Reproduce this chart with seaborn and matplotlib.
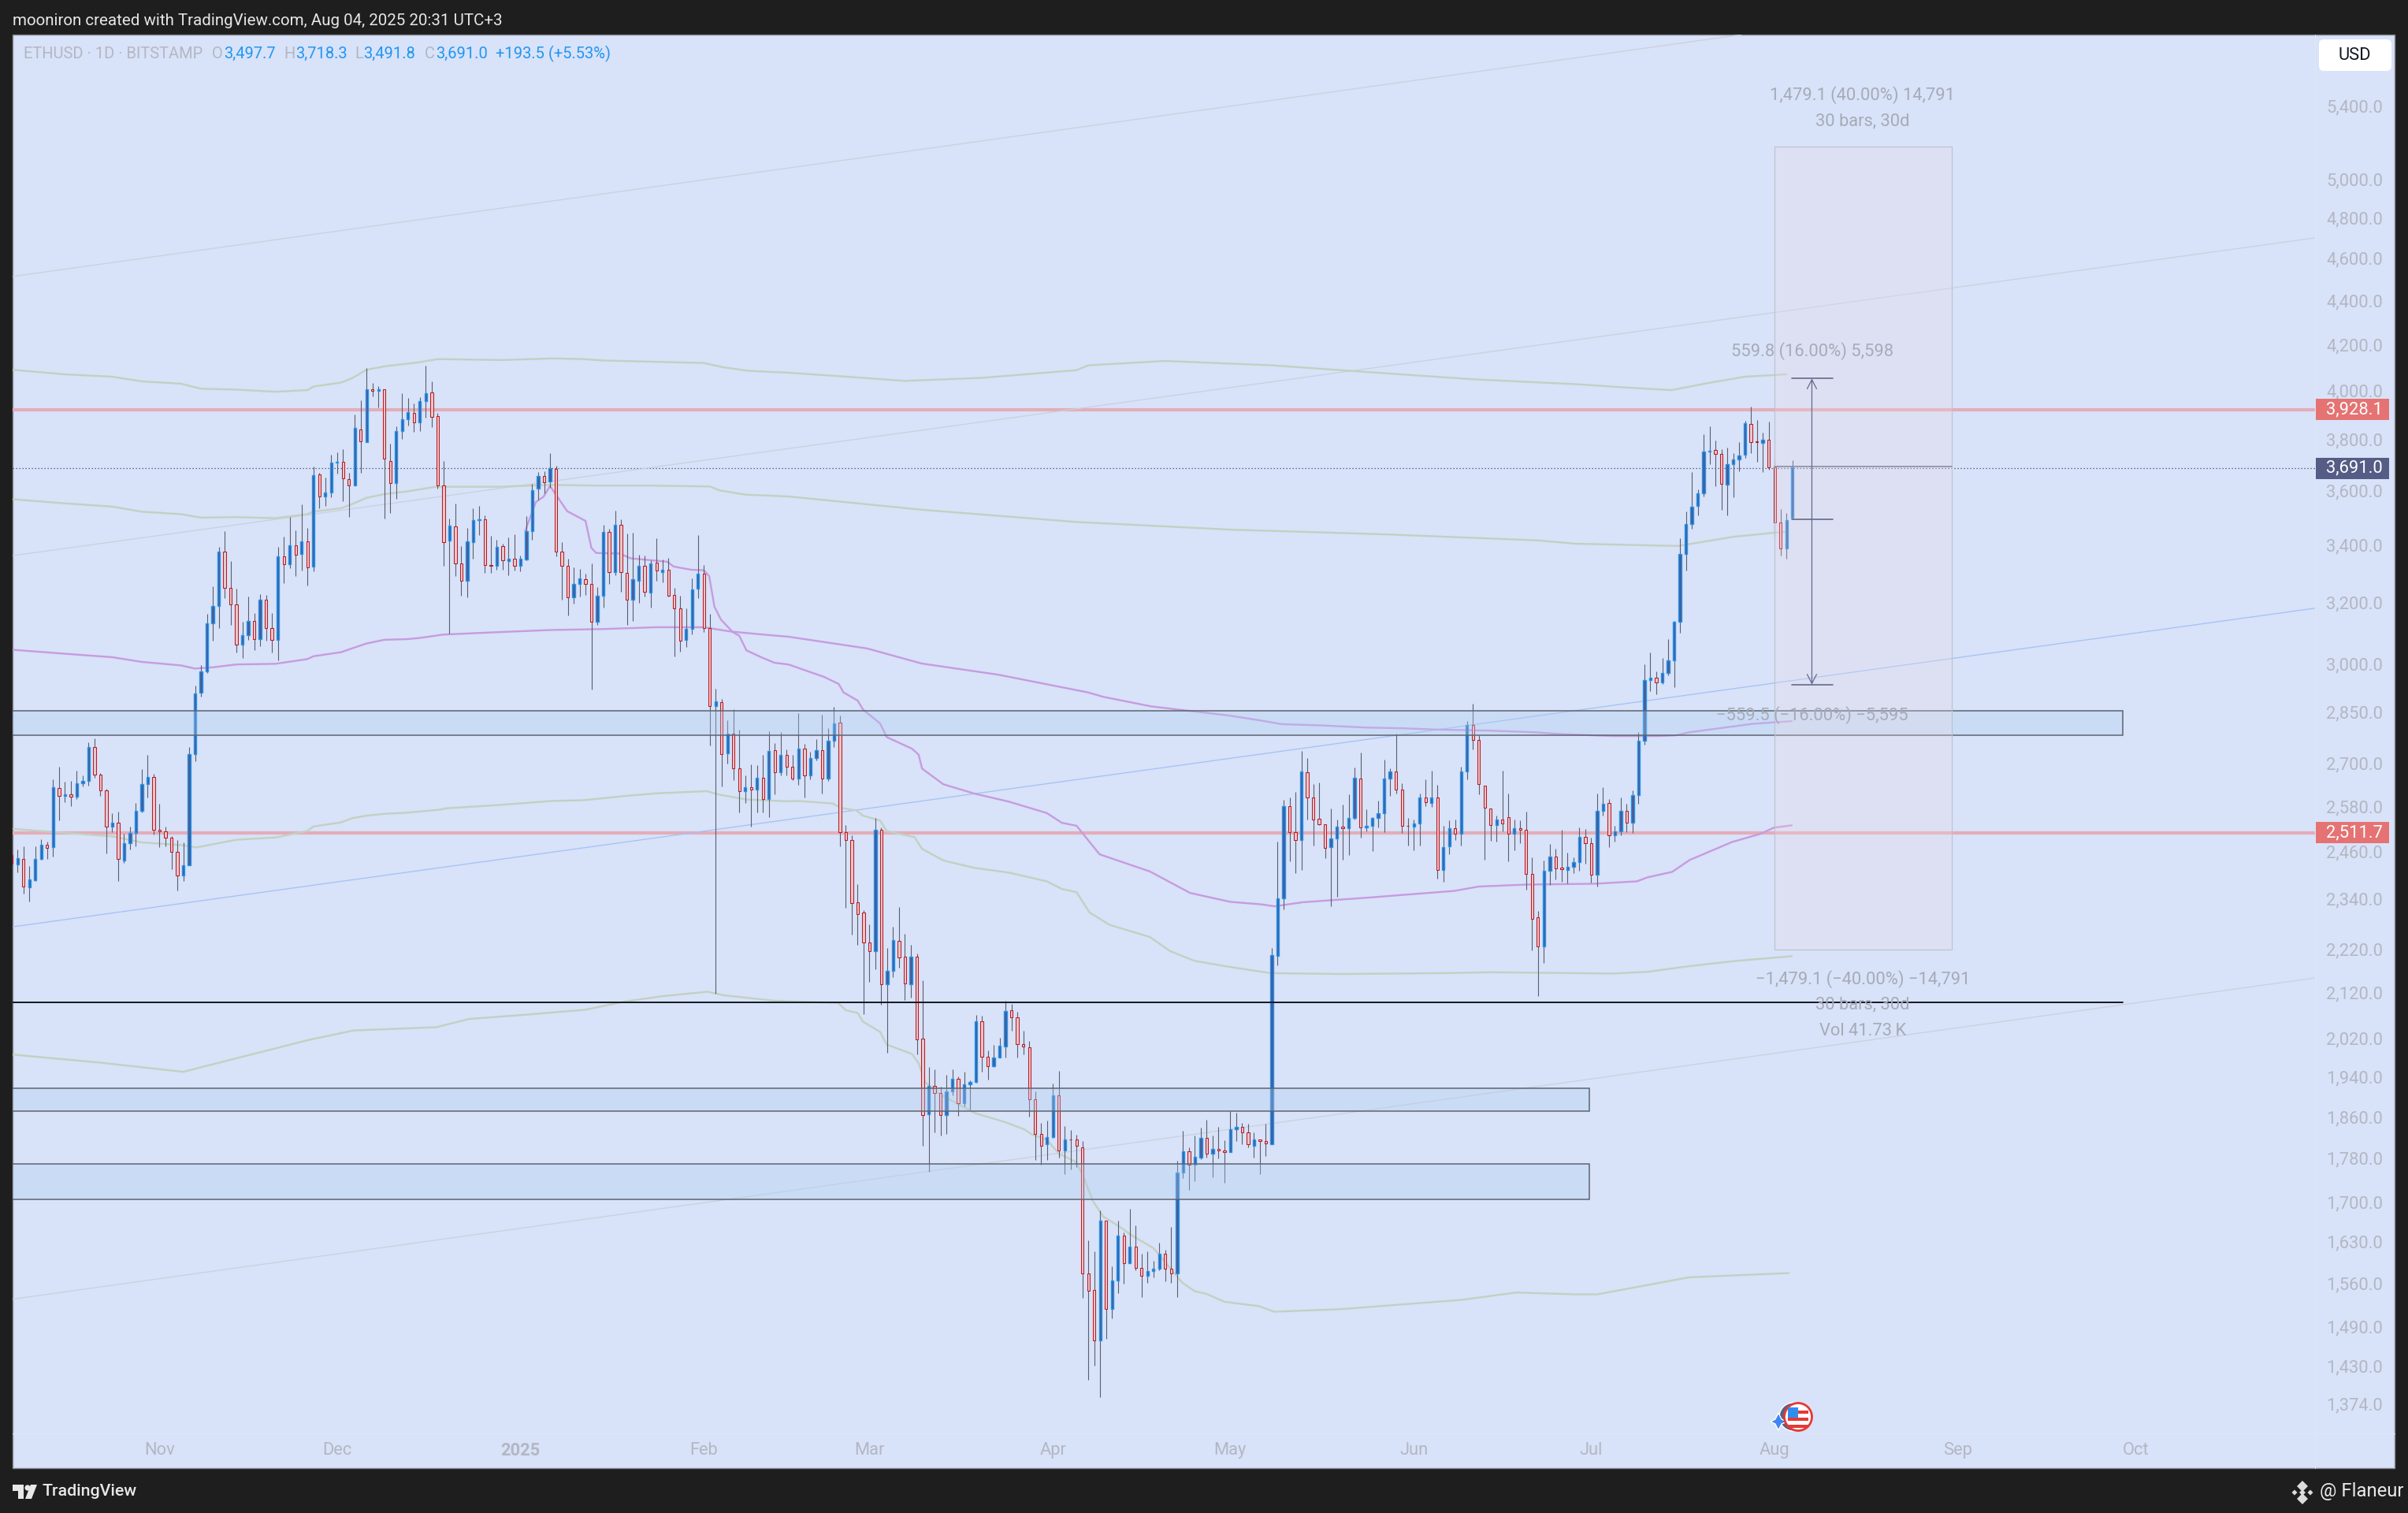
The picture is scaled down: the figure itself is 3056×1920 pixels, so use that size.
import numpy as np
import matplotlib
matplotlib.use("Agg")
import matplotlib.pyplot as plt
from matplotlib.patches import Rectangle, Circle, Polygon, FancyBboxPatch
import seaborn as sns

# ---------- candle data (daily ETHUSD) ----------
opens = [2452,2427,2441,2369,2387,2441,2477,2471,2631,2609,
 2614,2607,2643,2650,2748,2668,2624,2526,2536,2437,
 2482,2509,2568,2641,2661,2518,2514,2497,2459,2398,
 2425,2726,2908,2976,3131,3188,3377,3250,3194,3060,
 3092,3137,3077,3210,3113,3075,3359,3332,3399,3368,
 3413,3323,3662,3578,3593,3708,3711,3645,3619,3841,
 3788,4005,3999,4008,3714,3630,3835,3883,3907,3868,
 3958,3992,3894,3621,3415,3466,3335,3274,3410,3489,
 3492,3328,3326,3396,3343,3352,3326,3348,3449,3608,
 3656,3635,3684,3377,3325,3216,3262,3278,3264,3135,
 3222,3448,3305,3472,3300,3208,3274,3326,3234,3338,
 3305,3313,3224,3179,3075,3111,3246,3298,3114,2868,
 2880,2728,2785,2686,2623,2632,2627,2660,2601,2738,
 2675,2724,2691,2658,2742,2666,2714,2738,2658,2765,
 2819,2510,2490,2332,2306,2235,2215,2518,2139,2169,
 2239,2202,2138,2202,2020,1864,1921,1907,1863,1910,
 1935,1886,1924,1929,2057,1982,1962,1979,2003,2081,
 2066,2008,2001,1894,1826,1806,1820,1903,1794,1816,
 1816,1801,1577,1549,1469,1666,1518,1564,1641,1594,
 1621,1585,1573,1580,1584,1609,1584,1577,1754,1793,
 1768,1781,1818,1788,1798,1795,1791,1835,1840,1830,
 1804,1816,1813,1806,2204,2341,2580,2510,2491,2674,
 2605,2546,2533,2472,2495,2526,2521,2549,2658,2523,
 2528,2549,2561,2656,2677,2627,2528,2526,2535,2604,
 2590,2604,2413,2474,2521,2507,2676,2811,2767,2638,
 2575,2530,2545,2552,2507,2521,2518,2402,2295,2225,
 2410,2447,2418,2412,2420,2433,2498,2481,2401,2568,
 2589,2503,2514,2568,2537,2612,2765,2948,2956,2941,
 2970,3009,3135,3367,3475,3544,3589,3751,3759,3742,
 3622,3702,3721,3738,3864,3792,3785,3800,3691,3481,
 3386,3497.7]
highs = [2470,2465,2474,2422,2474,2493,2487,2655,2690,2649,
 2651,2680,2667,2760,2771,2672,2629,2562,2565,2506,
 2526,2590,2684,2725,2670,2588,2526,2500,2491,2483,
 2748,2930,2996,3161,3254,3393,3451,3342,3246,3134,
 3220,3163,3228,3225,3163,3392,3430,3503,3453,3549,
 3462,3694,3667,3649,3740,3750,3760,3669,3902,3960,
 4097,4033,4020,4008,3783,3854,3990,3971,3947,3973,
 4106,4041,3909,3715,3495,3551,3395,3460,3534,3542,
 3507,3431,3418,3403,3427,3439,3363,3504,3627,3673,
 3676,3744,3696,3410,3352,3320,3315,3297,3333,3251,
 3472,3458,3524,3493,3441,3444,3366,3362,3345,3424,
 3347,3353,3250,3223,3181,3282,3434,3328,3160,2921,
 2890,2826,2858,2798,2667,2698,2694,2725,2793,2758,
 2791,2739,2725,2848,2755,2734,2769,2843,2802,2865,
 2839,2530,2502,2377,2312,2279,2549,2523,2222,2272,
 2320,2255,2230,2209,2147,1960,1955,1919,1943,1955,
 1941,1951,1933,2070,2069,1995,2006,2021,2102,2094,
 2078,2037,2015,1910,1847,1853,1926,1952,1841,1834,
 1825,1813,1633,1614,1685,1666,1588,1666,1646,1688,
 1658,1610,1613,1598,1629,1616,1655,1775,1833,1801,
 1824,1839,1854,1824,1840,1814,1871,1867,1847,1846,
 1830,1816,1846,2223,2486,2597,2604,2620,2736,2715,
 2642,2646,2533,2574,2545,2586,2613,2688,2731,2573,
 2552,2596,2710,2686,2786,2644,2549,2545,2615,2654,
 2679,2640,2528,2543,2545,2690,2824,2875,2781,2638,
 2575,2556,2679,2615,2545,2543,2566,2445,2311,2436,
 2479,2467,2517,2458,2445,2523,2519,2496,2615,2633,
 2600,2527,2605,2587,2625,2791,2997,3035,2976,3017,
 3078,3138,3423,3522,3672,3606,3820,3852,3796,3762,
 3767,3744,3790,3876,3934,3879,3826,3872,3717,3532,
 3517,3718.3]
lows = [2420,2407,2354,2333,2385,2439,2441,2447,2543,2592,
 2581,2600,2634,2637,2659,2608,2455,2510,2385,2431,
 2465,2474,2563,2604,2504,2471,2474,2415,2361,2385,
 2425,2706,2898,2971,3073,3113,3215,3125,3034,3017,
 3076,3043,3056,3073,3036,3011,3265,3317,3290,3308,
 3257,3306,3535,3542,3576,3665,3559,3503,3619,3669,
 3788,3977,3929,3496,3517,3568,3803,3857,3829,3835,
 3888,3850,3608,3325,3096,3290,3221,3216,3350,3436,
 3302,3301,3312,3311,3292,3310,3306,3345,3418,3566,
 3591,3610,3358,3209,3156,3196,3220,3225,2919,3124,
 3183,3263,3294,3235,3124,3137,3197,3219,3182,3273,
 3268,3220,3022,3038,3054,3093,3213,3101,2751,2118,
 2634,2700,2653,2564,2590,2525,2564,2564,2550,2614,
 2666,2666,2653,2640,2604,2655,2708,2616,2650,2746,
 2473,2318,2253,2229,2073,2144,2172,2093,1990,2154,
 2177,2103,2109,1986,1803,1755,1829,1823,1826,1903,
 1862,1880,1874,1927,1951,1934,1960,1979,1979,2037,
 1980,1987,1860,1777,1768,1777,1819,1782,1750,1759,
 1763,1536,1409,1430,1383,1471,1504,1544,1560,1594,
 1582,1537,1561,1570,1582,1563,1561,1537,1743,1722,
 1738,1778,1781,1745,1780,1735,1791,1813,1807,1801,
 1782,1750,1785,1806,2182,2315,2434,2405,2413,2545,
 2476,2529,2443,2323,2346,2439,2451,2545,2497,2514,
 2462,2524,2510,2609,2616,2509,2476,2463,2475,2580,
 2578,2391,2383,2454,2490,2476,2654,2741,2614,2438,
 2488,2487,2513,2434,2464,2482,2363,2216,2113,2188,
 2375,2388,2383,2379,2405,2411,2429,2381,2371,2556,
 2472,2486,2502,2511,2508,2587,2753,2913,2904,2935,
 2962,2925,3098,3308,3459,3506,3579,3701,3616,3527,
 3506,3574,3676,3728,3747,3712,3673,3682,3425,3363,
 3351,3491.8]
closes = [2428,2443,2372,2388,2441,2477,2469,2633,2609,2614,
 2607,2643,2650,2748,2668,2624,2526,2536,2441,2482,
 2509,2568,2641,2661,2518,2514,2497,2459,2399,2425,
 2726,2906,2976,3131,3188,3377,3248,3194,3061,3092,
 3137,3077,3210,3113,3075,3359,3330,3399,3365,3413,
 3321,3659,3578,3593,3708,3711,3647,3619,3846,3791,
 4005,3999,4008,3723,3630,3835,3883,3911,3870,3958,
 3989,3893,3620,3411,3469,3335,3274,3413,3489,3493,
 3329,3325,3393,3345,3352,3326,3352,3449,3602,3656,
 3632,3687,3377,3325,3216,3264,3281,3262,3135,3222,
 3448,3303,3472,3303,3208,3278,3325,3237,3335,3308,
 3313,3221,3179,3073,3111,3245,3298,3115,2868,2882,
 2727,2785,2686,2623,2632,2627,2660,2601,2736,2675,
 2724,2691,2658,2742,2666,2714,2738,2658,2765,2816,
 2512,2490,2330,2303,2235,2215,2518,2139,2169,2241,
 2201,2140,2202,2018,1863,1921,1907,1863,1910,1935,
 1886,1924,1929,2056,1981,1962,1980,2005,2079,2066,
 2008,2003,1894,1826,1804,1820,1903,1794,1815,1815,
 1803,1576,1548,1469,1666,1519,1564,1641,1594,1621,
 1585,1573,1580,1584,1609,1584,1577,1754,1793,1768,
 1783,1818,1789,1797,1795,1791,1836,1840,1830,1806,
 1816,1813,1808,2205,2341,2580,2510,2491,2676,2605,
 2544,2531,2470,2495,2526,2521,2549,2660,2523,2528,
 2549,2561,2658,2677,2627,2528,2527,2535,2604,2591,
 2604,2413,2472,2521,2507,2676,2811,2767,2641,2576,
 2530,2545,2534,2507,2521,2517,2403,2292,2225,2410,
 2447,2416,2414,2420,2432,2498,2481,2401,2568,2587,
 2503,2514,2568,2537,2612,2765,2948,2956,2941,2970,
 3009,3135,3367,3475,3541,3589,3751,3755,3742,3625,
 3702,3721,3736,3867,3790,3788,3800,3691,3481,3386,
 3491,3691.0]

# ---------- band lines (bar number, price) ----------
g1_bar = [0,9,17,22,28.6,32,38,44.6,50,51,55.7,57.5,60,63.4,68.6,72,83,91.5,96.6,100,117,120.4,124.6,131.3,140,151,164,180,182,195,213,232,247,264.4,273.4,280.6,286.8,293,300]
g1_val = [4090,4070,4060,4040,4030,4009,4005,3996,4003,4018,4035,4053,4090,4106,4121,4136,4132,4139,4136,4130,4119,4100,4085,4077,4062,4042,4055,4088,4109,4128,4109,4075,4049,4028,4013,4003,4033,4060,4070]
g2_bar = [0,9,17,22,28.6,32,38,44.6,50,51,55.7,57.5,60,63,66.8,71.7,82.4,90.9,100,109,118,119.7,124,131.3,154,180,206,232,258,264.4,281.7,291,300]
g2_val = [3568,3552,3540,3521,3512,3499,3501,3497,3512,3521,3534,3549,3573,3587,3597,3615,3615,3622,3619,3619,3616,3601,3585,3578,3528,3483,3455,3438,3416,3404,3396,3429,3448]
p1_bar = [0,9,17,22,28.6,31,34,38,44.6,50,51,55.7,57.5,60,63,66.8,69,73,82.4,91.3,100,109,117,121.5,127,131.3,144.6,153.8,166.7,181.9,184.6,192.7,205.7,211.1,214.7,221.8,228.9,234.9,240.8,249.7,257.5,261.6,270.6,278.3,281.3,283.6,294.3,300.9]
p1_val = [3044,3031,3020,3005,2994,2984,2988,2997,2999,3014,3023,3036,3048,3064,3076,3078,3082,3093,3101,3108,3111,3117,3117,3103,3093,3086,3048,3000,2965,2910,2896,2867,2840,2825,2814,2810,2804,2802,2798,2795,2790,2785,2779,2779,2781,2790,2815,2823]
p2_bar = [86.8,88.6,89.9,91,93.9,97,98,98.8,102.8,104.6,110.8,111.9,114.8,117,117.9,118.8,119.9,121.9,123,124.2,126.8,129,131.3,137.3,139.8,140.6,143,143.9,146.8,147.9,152.2,153.3,153.9,157.5,162.8,168.6,175,177.5,180,183.9,192.4,199.2,206,211.1,213.5,218.2,228.9,243.8,248,256.3,267.6,274.7,276.5,280.7,283.6,290.8,295.5,297.9,300.9]
p2_val = [3450,3557,3577,3618,3523,3487,3389,3371,3369,3352,3340,3323,3312,3310,3290,3185,3142,3101,3089,3042,3019,3002,2997,2958,2936,2910,2885,2858,2816,2776,2742,2725,2685,2641,2615,2593,2562,2536,2528,2453,2409,2355,2333,2327,2322,2332,2343,2360,2371,2376,2378,2384,2394,2408,2438,2485,2506,2523,2529]
g3_bar = [0,9,17,22,28.6,31.3,38,44.6,50,51,55.7,57.5,60,63,66.8,72.2,73.5,82.4,91.3,96.6,104.6,109,117.5,119.7,124.2,131.3,133,138.8,140.2,142.8,143.9,146.8,147.9,152.6,153.9,157.5,162.8,168.6,175,177.5,180,182.2,185.6,192.4,195.8,200,206,212.8,224.7,241.7,250.2,264.4,270.6,276.5,283.6,291.4,300.9]
g3_val = [2520,2509,2500,2484,2477,2471,2491,2497,2514,2526,2537,2548,2555,2560,2563,2571,2575,2584,2595,2597,2610,2616,2622,2612,2599,2594,2595,2588,2576,2569,2555,2542,2514,2498,2467,2437,2418,2406,2384,2365,2357,2307,2277,2248,2215,2192,2178,2164,2162,2164,2166,2164,2163,2167,2180,2192,2203]
g4_bar = [0,15,29,37,50.3,57.8,71.8,77.4,86.8,97,103.6,110,117.6,120.4,128.8,139.7,141,143,143.9,146.8,147.9,152.2,153.3,154.4,157,162.8,168,171.2,172.5,175,177,179.9,181,182.8,184.5,187.6,189,193,197.9,200,201.9,205,210.8,213.4,224.5,245,254.4,264.4,268,283.6,300.4]
g4_val = [1986,1969,1950,1975,2017,2037,2044,2062,2071,2082,2100,2112,2122,2114,2102,2097,2081,2075,2056,2034,2007,1987,1968,1929,1904,1867,1849,1835,1825,1815,1789,1773,1750,1701,1674,1654,1643,1619,1561,1547,1543,1530,1523,1514,1518,1533,1545,1542,1542,1570,1577]

# ---------- channel lines, levels, boxes ----------
chan_top_bar, chan_top_val = [0, 292.4], [4512, 5824]
chan_upper_bar, chan_upper_val = [0, 389.3], [3361, 4700]
chan_mid_bar, chan_mid_val = [0, 389.3], [2272, 3180]
chan_low_bar, chan_low_val = [0, 389.3], [1534, 2153]
res_labels = [3928.1, 2511.7]
res_levels = [3922, 2509]          # where the level lines sit on the price scale
last_label = 3691.0
last_level = 3686
black_level = 2098
box_end_long, box_end_short = 356.8, 266.7
box_a = (2782, 2855)
box_b = (1871, 1917)
box_c = (1704, 1769)

y_ticks = [5400,5000,4800,4600,4400,4200,4000,3800,3600,3400,3200,3000,2850,2700,2580,2460,2340,2220,2120,2020,1940,1860,1780,1700,1630,1560,1490,1430,1374]
x_tick_bars = [25,55,86,117,145,176,206,237,267,298,329,359]
x_tick_text = ["Nov","Dec","2025","Feb","Mar","Apr","May","Jun","Jul","Aug","Sep","Oct"]

# projection tools
proj_bars = (298, 328)
proj_entry, proj_top, proj_bottom = 3692, 5176, 2218
arrow_bar, arrow_cap = 304.3, (300.9, 307.9)
arrow_start, arrow_top, arrow_bottom = 3493, 4052, 2934

# ---------- style ----------
W, H = 3056, 1920
sns.set_theme(style="white", rc={"axes.grid": False})
plt.rcParams["font.family"] = ["Roboto", "DejaVu Sans"]
DARK = "#1e1e1e"; PANE = "#d8e2f8"
GREEN = "#c3d0c2"; PURPLE = "#c79be0"; GREYL = "#c9d1de"; BLUEL = "#a3c1f5"
PINK = "#e4adb8"; NAVY = "#555c85"; AXT = "#b3b7c3"; TXT = "#a6abb8"

fig = plt.figure(figsize=(W/200, H/200), dpi=200, facecolor=DARK)

bg = fig.add_axes([0, 0, 1, 1], zorder=0)
bg.set_xlim(0, W); bg.set_ylim(H, 0); bg.axis("off")
bg.add_patch(Rectangle((16, 44), 3039-16, 1863-44, fc=PANE, ec="#8a8d96", lw=0.5))
bg.plot([2938, 2938], [44, 1863], color="#dfe6f8", lw=0.4)
bg.plot([16, 3039], [1819, 1819], color="#dfe6f8", lw=0.4)

ax = fig.add_axes([16/W, 1-1819/H, (2938-16)/W, (1819-44)/H], zorder=1)
ax.patch.set_alpha(0)
ax.set_yscale("log")
ax.set_ylim(1331.6, 5824)
ax.set_xlim(0.16, 389.35)
for s in ax.spines.values():
    s.set_visible(False)

# levels under the candles
for lv in res_levels:
    ax.axhline(lv, color=PINK, lw=1.5, zorder=1.2)
ax.axhline(last_level, color="#3d4470", lw=0.45, ls=(0, (1, 2.2)), zorder=1.3)

# channel + bands through seaborn
def line(xs, ys, color, lw, z=2):
    sns.lineplot(x=xs, y=ys, ax=ax, color=color, lw=lw, sort=False, estimator=None, zorder=z, legend=False)

line(chan_top_bar, chan_top_val, GREYL, 0.45)
line(chan_upper_bar, chan_upper_val, GREYL, 0.45)
line(chan_low_bar, chan_low_val, GREYL, 0.45)
line(chan_mid_bar, chan_mid_val, BLUEL, 0.45)
for xs, ys in [(g1_bar, g1_val), (g2_bar, g2_val), (g3_bar, g3_val), (g4_bar, g4_val)]:
    line(xs, ys, GREEN, 0.85)
line(p1_bar, p1_val, PURPLE, 0.85)
line(p2_bar, p2_val, PURPLE, 0.85)

# candles
o, h, l, c = map(np.array, (opens, highs, lows, closes))
bars = np.arange(len(o))
up = c >= o
ax.vlines(bars, l, h, color="#5a5f6e", lw=0.4, zorder=3)
ax.bar(bars[up], (c-o)[up], bottom=o[up], width=0.44, fc="#4c5a8e", ec="#2196f3", lw=0.5, zorder=3.2)
ax.bar(bars[~up], (o-c)[~up], bottom=c[~up], width=0.44, fc="#e3cbd0", ec="#c2181f", lw=0.38, zorder=3.2)

# boxes
def box(lo, hi, end):
    ax.add_patch(Rectangle((-5, lo), end+5, hi-lo, fc="#b0cdf0", alpha=0.33, ec="none", zorder=4))
    ax.add_patch(Rectangle((-5, lo), end+5, hi-lo, fc="none", ec="#5e6470", lw=0.55, zorder=4.1))
box(*box_a, box_end_long); box(*box_b, box_end_short); box(*box_c, box_end_short)
ax.plot([-5, box_end_long], [black_level]*2, color="#131722", lw=0.7, zorder=4.2)

# projection rectangle
ax.add_patch(Rectangle((proj_bars[0], proj_bottom), proj_bars[1]-proj_bars[0], proj_top-proj_bottom,
                       fc="#efdbe7", alpha=0.25, ec="none", zorder=5))
ax.add_patch(Rectangle((proj_bars[0], proj_bottom), proj_bars[1]-proj_bars[0], proj_top-proj_bottom,
                       fc="none", ec="#bcc1cd", lw=0.4, zorder=5.1))
ax.plot(proj_bars, [proj_entry]*2, color="#8b8fa3", lw=0.6, zorder=5.2)

# arrow measure
ax.annotate("", xy=(arrow_bar, arrow_top), xytext=(arrow_bar, arrow_bottom),
            arrowprops=dict(arrowstyle="<->,head_length=0.35,head_width=0.18", color="#646a8a", lw=0.45, shrinkA=0, shrinkB=0),
            zorder=5.3)
for v in (arrow_top, arrow_start, arrow_bottom):
    ax.plot(arrow_cap, [v, v], color="#646a8a", lw=0.6, zorder=5.3)

# axes ticks
ax.yaxis.tick_right()
ax.set_yticks(y_ticks)
ax.set_yticklabels([f"{v:,.1f}" for v in y_ticks], ha="right", color=AXT, fontsize=7.9)
ax.minorticks_off()
ax.tick_params(axis="y", which="both", length=0, pad=31)
ax.set_xticks(x_tick_bars)
ax.set_xticklabels(x_tick_text, color=AXT, fontsize=7.9)
ax.tick_params(axis="x", length=0, pad=4.0)
for t in ax.get_xticklabels():
    if t.get_text() == "2025":
        t.set_fontweight("bold")

# price tags on the axis
ty = ax.get_yaxis_transform()
frac = (3031-2938)/(2938-16)
tags = [(res_levels[0], res_labels[0], "#e57373"), (last_level, last_label, NAVY), (res_levels[1], res_labels[1], "#e57373")]
for v, txt, col in tags:
    lo, hi = v*np.exp(-13.5/1203), v*np.exp(13.5/1203)
    ax.add_patch(Rectangle((1.0003, lo), frac, hi-lo, transform=ty, fc=col, ec="none", clip_on=False, zorder=6))
    ax.text(1.0294, v, f"{txt:,.1f}", transform=ty, ha="right", va="center", color="white", fontsize=7.9, zorder=7, clip_on=False)

# measure labels
top = fig.add_axes([0, 0, 1, 1], zorder=2)
top.set_xlim(0, W); top.set_ylim(H, 0); top.axis("off"); top.patch.set_alpha(0)
for x, y, s in [(2364, 121, "1,479.1 (40.00%) 14,791"), (2364, 154, "30 bars, 30d"),
                (2300, 446, "559.8 (16.00%) 5,598"), (2300, 908, "\u2212559.5 (\u221216.00%) \u22125,595"),
                (2364, 1243, "\u22121,479.1 (\u221240.00%) \u221214,791"), (2364, 1275, "30 bars, 30d"),
                (2364, 1308, "Vol 41.73\u2009K")]:
    top.text(x, y, s, ha="center", va="center", color=TXT, fontsize=7.9)

# header / footer / legend
top.text(16, 26, "mooniron created with TradingView.com, Aug 04, 2025 20:31 UTC+3", color="#e6e6e6", fontsize=7.4, va="center")
LEG = "#2196f3"
for x, s, col in [(30, "ETHUSD \u00b7 1D \u00b7 BITSTAMP", AXT), (269, "O", AXT), (284, "3,497.7", LEG),
                  (360, "H", AXT), (375, "3,718.3", LEG), (450, "L", AXT), (461, "3,491.8", LEG),
                  (539, "C", AXT), (553, "3,691.0", LEG), (629, "+193.5 (+5.53%)", LEG)]:
    top.text(x, 68, s, color=col, fontsize=7.25, va="center")
top.add_patch(FancyBboxPatch((2943, 50), 92, 40, boxstyle="round,pad=0,rounding_size=6", fc="white", ec="none"))
top.text(2988, 70, "USD", color="#131722", fontsize=7.9, ha="center", va="center")

top.text(53, 1892, "TradingView", color="#e8e8e8", fontsize=7.7, va="center", fontweight="medium")
top.add_patch(Polygon([(16, 1884), (30, 1884), (30, 1902), (23, 1902), (23, 1892), (16, 1892)], fc="#e8e8e8", ec="none"))
top.add_patch(Circle((35, 1888), 3.6, fc="#e8e8e8", ec="none"))
top.add_patch(Polygon([(32, 1902), (39, 1884), (47, 1884), (40, 1902)], fc="#e8e8e8", ec="none"))
top.text(2944, 1893, "@ Flaneur", color="#e8e8e8", fontsize=8.6, va="center")
for dx, dy, s in [(0, -8, 7), (-10, 0, 3.5), (10, 0, 3.5), (0, 0, 4), (0, 8, 7)]:
    top.add_patch(Polygon([(2922+dx, 1894+dy-s), (2922+dx+s, 1894+dy), (2922+dx, 1894+dy+s), (2922+dx-s, 1894+dy)], fc="#dcdcdc", ec="none"))

# event badge
top.add_patch(Circle((2276, 1798), 18, fc="#5a6080", ec="white", lw=0.5))
top.add_patch(Polygon([(2257, 1793), (2261, 1801), (2268, 1804), (2261, 1807), (2257, 1815), (2253, 1807), (2247, 1804), (2253, 1801)], fc="#3d84f5", ec="white", lw=0.5))
top.add_patch(Circle((2282, 1798), 17.5, fc="white", ec="#e53935", lw=1.0))
for yy in (1790, 1799, 1808):
    top.add_patch(Rectangle((2269, yy), 26, 3.5, fc="#e53935", ec="none"))
top.add_patch(Rectangle((2269, 1786), 13, 13, fc="#2e8df0", ec="none"))

fig.savefig("out.png", dpi=200, facecolor=DARK)
